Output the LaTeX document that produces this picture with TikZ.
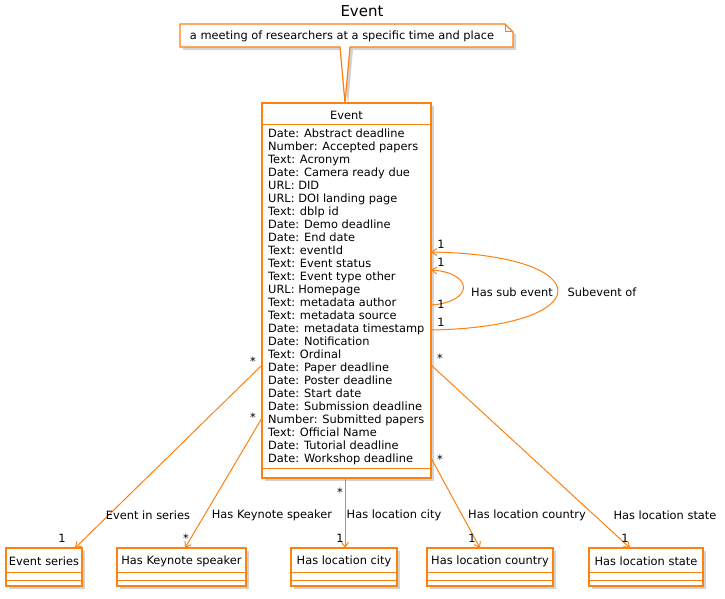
\documentclass[tikz,border=0pt]{standalone}
\usepackage{fontspec}
\setmainfont{DejaVu Sans}
\usetikzlibrary{shadows,calc,arrows.meta}
\definecolor{umlorange}{RGB}{254,128,14}
\definecolor{umlfill}{RGB}{255,255,255}
\tikzset{
  cls/.style={draw=umlorange,line width=1.2pt,fill=umlfill,
    drop shadow={opacity=0.35,shadow xshift=3pt,shadow yshift=-3pt}},
  assoc/.style={draw=umlorange,line width=1pt,-{Straight Barb[length=5pt,width=7pt]}},
  lbl/.style={font=\fontsize{11.4}{13}\selectfont,inner sep=1pt}
}
\begin{document}
\begin{tikzpicture}[x=1pt,y=-1pt]
\useasboundingbox (0,0) rectangle (725,599);
\node[font=\fontsize{15}{17}\selectfont] (title) at (362,11) {Event};

% note
\draw[cls] (180,24) -- (505,24) -- (513,32) -- (513,47) -- (350,47) -- (345,103) -- (340,47) -- (180,47) -- cycle;
\draw[umlorange,line width=1pt] (505,24) -- (505,32) -- (513,32);
\node[lbl] (note) at (342,36) {a meeting of researchers at a specific time and place};

% main class
\node[cls,minimum width=169pt,minimum height=375pt,inner sep=0pt] (ev) at (346.5,290.5) {};
\node[lbl] (evname) at (346.5,115) {Event};
\draw[umlorange,line width=1pt] (262,125) -- (431,125);
\draw[umlorange,line width=1pt] (262,468) -- (431,468);
\node[lbl,anchor=north west,align=left,inner sep=0pt] (evattr) at (268,129) {%
Date: Abstract deadline\\Number: Accepted papers\\Text: Acronym\\Date: Camera ready due\\%
URL: DID\\URL: DOI landing page\\Text: dblp id\\Date: Demo deadline\\Date: End date\\%
Text: eventId\\Text: Event status\\Text: Event type other\\URL: Homepage\\%
Text: metadata author\\Text: metadata source\\Date: metadata timestamp\\Date: Notification\\%
Text: Ordinal\\Date: Paper deadline\\Date: Poster deadline\\Date: Start date\\%
Date: Submission deadline\\Number: Submitted papers\\Text: Official Name\\%
Date: Tutorial deadline\\Date: Workshop deadline};

% target classes
\foreach \nm/\x/\w/\txt in {ser/44/76/Event series, key/181.5/129/Has Keynote speaker,
  city/344/106/Has location city, ctry/490/126/Has location country, st/646/114/Has location state}{
  \node[cls,minimum width=\w pt,minimum height=38pt,inner sep=0pt] (\nm) at (\x,567) {};
  \node[lbl] at (\x,561) {\txt};
  \draw[umlorange,line width=1pt] ($(\nm.west)+(0,5)$) -- ($(\nm.east)+(0,5)$);
  \draw[umlorange,line width=1pt] ($(\nm.west)+(0,13)$) -- ($(\nm.east)+(0,13)$);
}

% associations
\coordinate (e1) at (262,365);
\coordinate (e2) at (262,418);
\coordinate (e3) at (345,478);
\coordinate (e4) at (431,458);
\coordinate (e5) at (431,365);
\coordinate (t1) at (75,548);
\coordinate (t2) at (185,548);
\coordinate (t3) at (345,548);
\coordinate (t4) at (480,548);
\coordinate (t5) at (630,548);
\draw[assoc] (e1) -- (t1);
\draw[assoc] (e2) -- (t2);
\draw[assoc] (e3) -- (t3);
\draw[assoc] (e4) -- (t4);
\draw[assoc] (e5) -- (t5);
\node[lbl] at (253,361) {*};   \node[lbl] at (62,538) {1};  \node[lbl] at (148,515) {Event in series};
\node[lbl] at (253,417) {*};   \node[lbl] at (186,538) {*}; \node[lbl] at (272,515) {Has Keynote speaker};
\node[lbl] at (340,492) {*};   \node[lbl] at (340,538) {1}; \node[lbl] at (394,515) {Has location city};
\node[lbl] at (440,459) {*};   \node[lbl] at (472,538) {1}; \node[lbl] at (527,515) {Has location country};
\node[lbl] at (440,358) {*};   \node[lbl] at (625,538) {1}; \node[lbl] at (665,515) {Has location state};

% self associations
\coordinate (s1) at (431,305); \coordinate (s2) at (431,270);
\coordinate (s3) at (431,330); \coordinate (s4) at (431,252);
\draw[assoc] (s1) .. controls (474,302) and (474,273) .. (s2);
\draw[assoc] (s3) .. controls (600,327) and (600,255) .. (s4);
\node[lbl] at (441,262) {1}; \node[lbl] at (441,304) {1};
\node[lbl] at (441,244) {1}; \node[lbl] at (441,322) {1};
\node[lbl] at (512,292) {Has sub event};
\node[lbl] at (602,292) {Subevent of};
\end{tikzpicture}
\end{document}
